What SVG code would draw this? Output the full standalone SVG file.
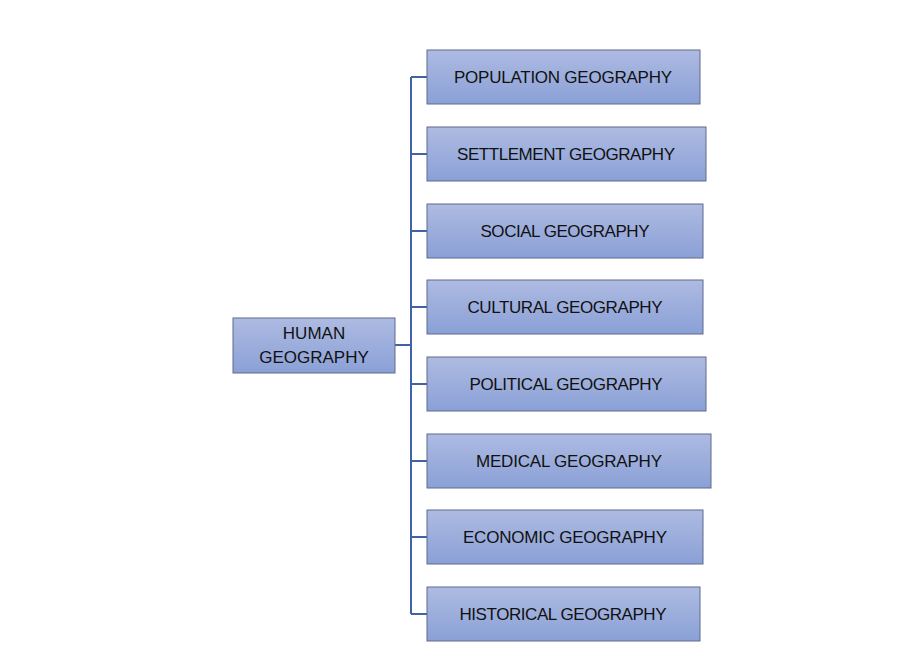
<svg xmlns="http://www.w3.org/2000/svg" width="900" height="664" viewBox="0 0 900 664">
<defs>
<linearGradient id="g" x1="0" y1="0" x2="0" y2="1"><stop offset="0" stop-color="#aebbe2"/><stop offset="1" stop-color="#8aa0d6"/></linearGradient>
<style>
.b{fill:url(#g);stroke:#5f6b8c;stroke-width:1}
.t{font-family:"Liberation Sans",Arial,sans-serif;font-size:17px;fill:#111;text-anchor:middle;dominant-baseline:central}
.c{fill:none;stroke:#3f62a8;stroke-width:2}
</style>
</defs>
<rect width="900" height="664" fill="#fff"/>
<g id="connectors">
<path class="c" d="M395 345H411M411 77V614M411 77H427M411 154H427M411 231H427M411 307H427M411 384H427M411 461H427M411 537H427M411 614H427"/>
</g>
<g id="human"><rect class="b" x="233" y="318" width="162" height="55"/><text class="t" x="314" y="333">HUMAN</text><text class="t" x="314" y="357">GEOGRAPHY</text></g>
<g id="n1"><rect class="b" x="427" y="50" width="273" height="54"/><text class="t" x="563" y="77" textLength="218">POPULATION GEOGRAPHY</text></g>
<g id="n2"><rect class="b" x="427" y="127" width="279" height="54"/><text class="t" x="566" y="154" textLength="218">SETTLEMENT GEOGRAPHY</text></g>
<g id="n3"><rect class="b" x="427" y="204" width="276" height="54"/><text class="t" x="565" y="231" textLength="169">SOCIAL GEOGRAPHY</text></g>
<g id="n4"><rect class="b" x="427" y="280" width="276" height="54"/><text class="t" x="565" y="307" textLength="195">CULTURAL GEOGRAPHY</text></g>
<g id="n5"><rect class="b" x="427" y="357" width="279" height="54"/><text class="t" x="566" y="384" textLength="193">POLITICAL GEOGRAPHY</text></g>
<g id="n6"><rect class="b" x="427" y="434" width="284" height="54"/><text class="t" x="569" y="461" textLength="186">MEDICAL GEOGRAPHY</text></g>
<g id="n7"><rect class="b" x="427" y="510" width="276" height="54"/><text class="t" x="565" y="537" textLength="204">ECONOMIC GEOGRAPHY</text></g>
<g id="n8"><rect class="b" x="427" y="587" width="273" height="54"/><text class="t" x="563" y="614" textLength="207">HISTORICAL GEOGRAPHY</text></g>
</svg>
